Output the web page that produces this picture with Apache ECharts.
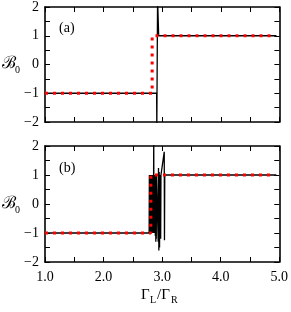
<!DOCTYPE html>
<html><head><meta charset="utf-8">
<script src="https://cdn.jsdelivr.net/npm/echarts@6/dist/echarts.min.js"></script>
<style>html,body{margin:0;padding:0;background:#fff}#c{width:291px;height:312px}</style>
</head><body><div id="c"></div>
<script>
// Panel (a)
const aBlackX = [1.0, 2.905, 2.908, 2.921, 2.940, 4.95];
const aBlackY = [-1, -1, -2.3, 2.3, 1, 1];
const aRedX = [1.0, 2.829, 2.829, 4.93];
const aRedY = [-1, -1, 1, 1];
// Panel (b)
const bBlackX = [1.0, 2.778, 2.782, 2.786, 2.790, 2.794, 2.798, 2.802, 2.806, 2.810, 2.814,
  2.818, 2.822, 2.826, 2.830, 2.834, 2.838, 2.842, 2.846, 2.850, 2.854, 2.857, 2.860,
  2.864, 2.868, 2.872, 2.876, 2.880, 2.884, 2.888, 2.892, 2.896, 2.900, 2.904, 2.930,
  2.933, 2.938, 2.944, 2.950, 2.956, 2.962, 2.975, 2.980, 2.990, 3.036, 3.040, 3.045, 4.95];
const bBlackY = [-1, -1, 1, -1, 1, -1, 1, -1, 1, -1, 1,
  -1, 1, -1, 1, -1, 1, -1, 1, -1, 1, 2.3, -1,
  1, -1, 1, -1, 1, -1.1, 1, -1.3, 1, -1.2, 1, 1,
  -1.3, 1.24, -1.6, 1.1, -1.5, 1, -1.2, 1, 1, 1.8, -1.25, 1, 1];
const bRedX = [1.0, 2.807, 2.807, 4.93];
const bRedY = [-1, -1, 1, 1];
// Axis ticks
const xMin = 1, xMax = 5, xStep = 0.5;
const yMin = -2, yMax = 2, yStep = 0.5;
const panelLabels = ['(a)', '(b)'];

const zip = (xs, ys) => xs.map((x, i) => [x, ys[i]]);
const FONT = 'Liberation Serif';
const grids = [
  {left: 45, top: 6, width: 234.4, height: 116},
  {left: 45, top: 146, width: 234.4, height: 116}
];
const xAxes = [], yAxes = [];
grids.forEach((g, gi) => {
  const tick = {show: true, inside: true, length: 5, lineStyle: {color: '#000', width: 1}};
  const line = {show: true, onZero: false, lineStyle: {color: '#000', width: 1.6}};
  xAxes.push({type: 'value', gridIndex: gi, position: 'bottom', min: xMin, max: xMax, interval: xStep,
    axisLine: line, axisTick: tick, splitLine: {show: false},
    axisLabel: {show: gi === 1, margin: 8, color: '#000', fontFamily: FONT, fontSize: 14,
      formatter: v => Math.abs(v - Math.round(v)) < 1e-9 ? v.toFixed(1) : ''}});
  xAxes.push({type: 'value', gridIndex: gi, position: 'top', min: xMin, max: xMax, interval: xStep,
    axisLine: line, axisTick: tick, splitLine: {show: false}, axisLabel: {show: false}});
  yAxes.push({type: 'value', gridIndex: gi, position: 'left', min: yMin, max: yMax, interval: yStep,
    axisLine: line, axisTick: tick, splitLine: {show: false},
    axisLabel: {margin: 6, color: '#000', fontFamily: FONT, fontSize: 14,
      formatter: v => Math.abs(v - Math.round(v)) < 1e-9 ? (v < 0 ? '\u2212' + (-v) : String(v)) : ''}});
  yAxes.push({type: 'value', gridIndex: gi, position: 'right', min: yMin, max: yMax, interval: yStep,
    axisLine: line, axisTick: tick, splitLine: {show: false}, axisLabel: {show: false}});
});
const black = (xs, ys, gi) => ({type: 'line', xAxisIndex: gi * 2, yAxisIndex: gi * 2, data: zip(xs, ys),
  showSymbol: false, clip: true, z: 2, lineStyle: {color: '#000', width: 1.3}, animation: false});
const red = (xs, ys, gi) => ({type: 'line', xAxisIndex: gi * 2, yAxisIndex: gi * 2, data: zip(xs, ys),
  showSymbol: false, clip: true, z: 3, lineStyle: {color: '#ff0000', width: 3, type: [3, 5], cap: 'butt'}, animation: false});

const graphic = [];
grids.forEach((g, gi) => {
  graphic.push({type: 'text', left: 59, top: g.top + 15, style: {text: panelLabels[gi], font: '14px ' + FONT, fill: '#000'}});
  graphic.push({type: 'text', left: 2, top: g.top + 49, style: {text: '\u212C', font: '17px DejaVu Serif', fill: '#000'}});
  graphic.push({type: 'text', left: 15, top: g.top + 59, style: {text: '0', font: '10px ' + FONT, fill: '#000'}});
});
graphic.push({type: 'group', left: 141, top: 288, children: [
  {type: 'text', x: 0, y: 0, style: {text: '\u0393', font: '15px ' + FONT, fill: '#000'}},
  {type: 'text', x: 9, y: 7, style: {text: 'L', font: '10px ' + FONT, fill: '#000'}},
  {type: 'text', x: 16, y: 0, style: {text: '/\u0393', font: '15px ' + FONT, fill: '#000'}},
  {type: 'text', x: 30, y: 7, style: {text: 'R', font: '10px ' + FONT, fill: '#000'}}
]});

const chart = echarts.init(document.getElementById('c'), null, {renderer: 'canvas'});
chart.setOption({
  animation: false,
  grid: grids,
  xAxis: xAxes,
  yAxis: yAxes,
  series: [black(aBlackX, aBlackY, 0), red(aRedX, aRedY, 0), black(bBlackX, bBlackY, 1), red(bRedX, bRedY, 1)],
  graphic: graphic
});
</script></body></html>
